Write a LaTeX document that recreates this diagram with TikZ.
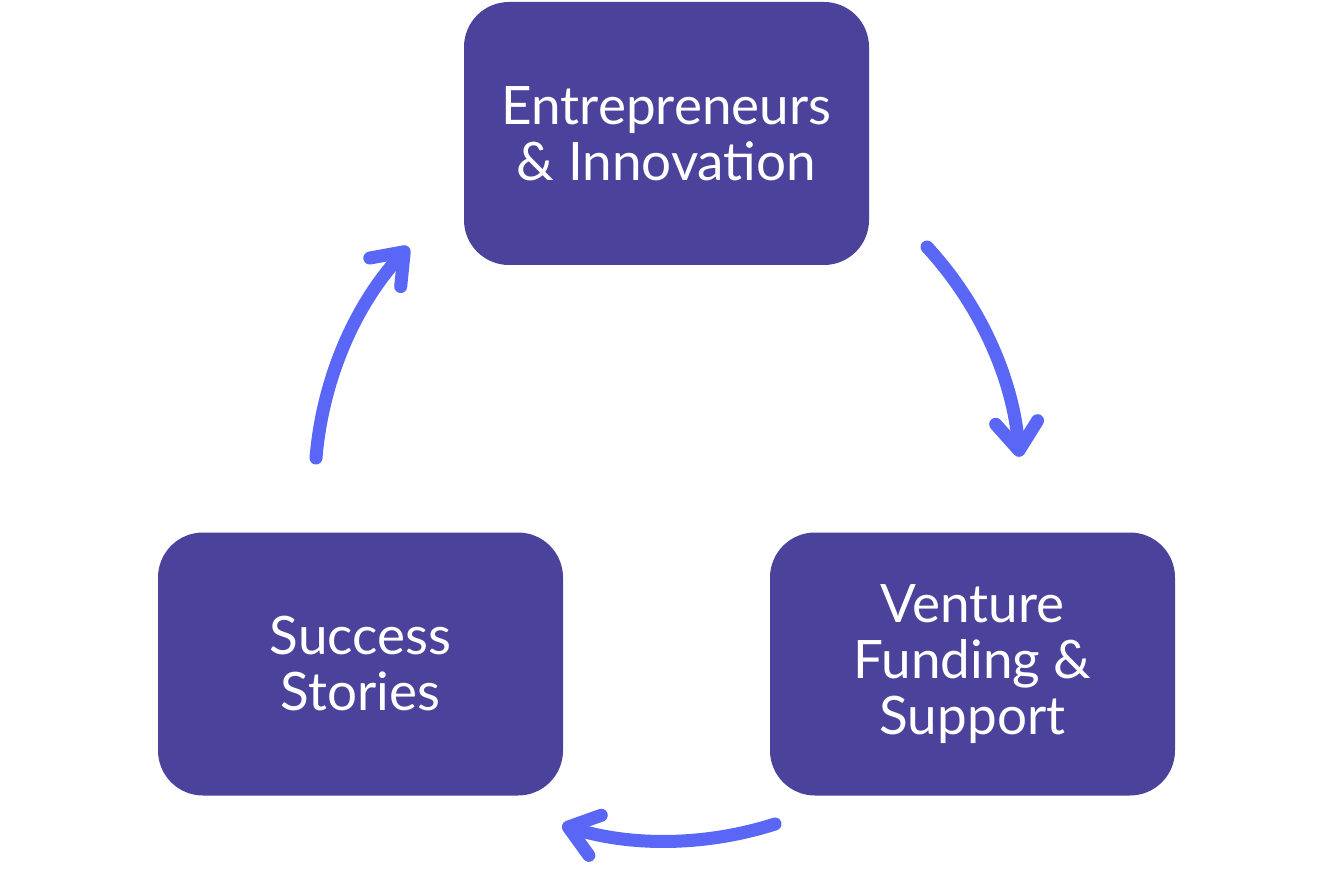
\documentclass[tikz,border=0pt]{standalone}
\usepackage{fontspec}
\setmainfont{Lato}
\usetikzlibrary{arrows.meta}
\definecolor{boxfill}{HTML}{4B429B}
\definecolor{arrowcol}{HTML}{5A66F5}
\begin{document}
\begin{tikzpicture}[x=1pt,y=-1pt,
  cardbox/.style={rectangle, rounded corners=45pt, fill=boxfill, draw=none,
    minimum width=405pt, minimum height=263pt, align=center, text=white,
    font=\fontsize{53}{56}\selectfont, inner sep=0pt},
  cyclearrow/.style={draw=arrowcol, line width=13pt, line cap=round,
    -{Straight Barb[length=28pt,width=42pt,line cap=round,line join=round]}}]
\useasboundingbox (0,0) rectangle (1334,890);
\node[cardbox] (top) at (666.5,133.5) {Entrepreneurs\\\& Innovation};
\node[cardbox] (left) at (360.5,664) {Success\\Stories};
\node[cardbox] (right) at (972.5,664) {Venture\\Funding \&\\Support};
\coordinate (a1s) at (927,247);
\coordinate (a2s) at (775,824);
\coordinate (a3s) at (316,458);
\draw[cyclearrow] (a1s) arc[start angle=-42.7, end angle=-4.9, radius=354];
\draw[cyclearrow] (a2s) arc[start angle=72.2, end angle=107.2, radius=354];
\draw[cyclearrow] (a3s) arc[start angle=-175.3, end angle=-137.3, radius=354];
\end{tikzpicture}
\end{document}
